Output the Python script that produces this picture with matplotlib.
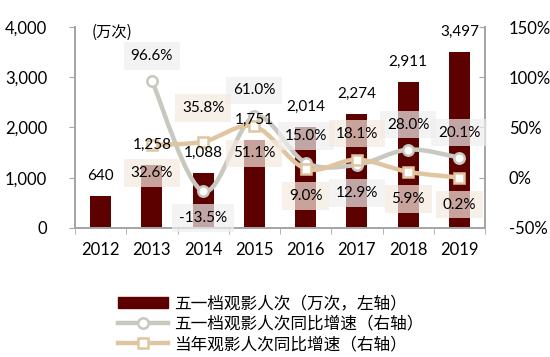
import matplotlib
matplotlib.use('Agg')
import matplotlib.pyplot as plt
from matplotlib.path import Path
from matplotlib.patches import PathPatch, Patch
from matplotlib.lines import Line2D
import numpy as np

plt.rcParams['font.family'] = ['Lato', 'Noto Sans CJK SC', 'DejaVu Sans']

years = ['2012', '2013', '2014', '2015', '2016', '2017', '2018', '2019']
admissions = [640, 1258, 1088, 1751, 2014, 2274, 2911, 3497]
# growth series start in 2013
may_growth = [96.6, -13.5, 61.0, 15.0, 12.9, 28.0, 20.1]
year_growth = [32.6, 35.8, 51.1, 9.0, 18.1, 5.9, 0.2]

bar_name = '五一档观影人次（万次，左轴）'
may_name = '五一档观影人次同比增速（右轴）'
year_name = '当年观影人次同比增速（右轴）'

# label offsets in pixels (negative = above the point)
may_off = [-25, 27, -26, -27, 28, -25, -25]
year_off = [28, -34, 27, 27, -26, 27, 27]

c_bar = '#5c0000'
c_gray = '#c8c8bf'
c_tan = '#dfc6a0'
c_spine = '#a6a6a6'

fig = plt.figure(figsize=(5.5, 3.57), dpi=100)
ax1 = fig.add_axes([75 / 550, 1 - 228 / 357, 410 / 550, 201 / 357])
ax2 = ax1.twinx()

x = np.arange(len(years))
xg = x[1:]
ax1.bar(x, admissions, width=0.41, color=c_bar, zorder=2)
ax1.set_xlim(-0.5, len(years) - 0.5)
ax1.set_ylim(0, 4000)
ax1.set_yticks([0, 1000, 2000, 3000, 4000])
ax1.set_yticklabels(['{:,}'.format(v) for v in [0, 1000, 2000, 3000, 4000]], fontsize=12)
ax1.set_xticks(x)
ax1.set_xticklabels(years, fontsize=12)
ax1.set_xticks(np.arange(-0.5, len(years)), minor=True)
ax1.tick_params(axis='x', which='major', length=0, pad=10)
ax1.tick_params(axis='x', which='minor', length=4, color=c_spine, direction='out')
ax1.tick_params(axis='y', length=4, color=c_spine, pad=16)

ax2.set_ylim(-50, 150)
ax2.set_yticks([-50, 0, 50, 100, 150])
ax2.set_yticklabels(['{}%'.format(v) for v in [-50, 0, 50, 100, 150]], fontsize=12)
ax2.tick_params(axis='y', length=4, color=c_spine, direction='in', pad=17)

for a in (ax1, ax2):
    a.spines['top'].set_visible(False)
    for s in ('left', 'right', 'bottom'):
        a.spines[s].set_color(c_spine)
        a.spines[s].set_linewidth(1.3)


def smooth_path(xs, ys):
    # Bezier path through the points (Excel style smoothed line)
    pts = np.column_stack([xs, ys]).astype(float)
    verts = [pts[0]]
    codes = [Path.MOVETO]
    n = len(pts)
    for i in range(n - 1):
        p0 = pts[i - 1] if i > 0 else pts[i]
        p1 = pts[i]
        p2 = pts[i + 1]
        p3 = pts[i + 2] if i + 2 < n else pts[i + 1]
        verts += [p1 + (p2 - p0) / 6, p2 - (p3 - p1) / 6, p2]
        codes += [Path.CURVE4] * 3
    return Path(verts, codes)


ax2.add_patch(PathPatch(smooth_path(xg, may_growth), fill=False, edgecolor=c_gray,
                        lw=3.2, zorder=3, capstyle='round', joinstyle='round'))
ax2.plot(xg, may_growth, ls='none', marker='o', ms=7.5, mfc='white', mec=c_gray, mew=1.8, zorder=4)
ax2.add_patch(PathPatch(smooth_path(xg, year_growth), fill=False, edgecolor=c_tan,
                        lw=3.2, zorder=3, capstyle='round', joinstyle='round'))
ax2.plot(xg, year_growth, ls='none', marker='s', ms=7.5, mfc='white', mec=c_tan, mew=1.8, zorder=4)

px = 72 / 100  # pixels to points
for xi, v in zip(x, admissions):
    ax2.annotate('{:,}'.format(v), (xi, v), xycoords=ax1.transData, xytext=(0, 20 * px),
                 textcoords='offset points', ha='center', va='center', fontsize=11, zorder=6)

for vals, offs, bg in ((may_growth, may_off, '#eeeeee'), (year_growth, year_off, '#f5eadf')):
    for xi, v, o in zip(xg, vals, offs):
        ax2.annotate('{:.1f}%'.format(v), (xi, v), xytext=(0, -o * px), textcoords='offset points',
                     ha='center', va='center', fontsize=11, zorder=5,
                     bbox=dict(boxstyle='square,pad=0.45', fc=bg, ec='none', alpha=0.7))

fig.text(92 / 550, 1 - 32 / 357, '(万次)', fontsize=11, va='center', ha='left',
         family=['Noto Sans CJK SC', 'DejaVu Sans'])

handles = [Patch(color=c_bar),
           Line2D([], [], color=c_gray, lw=3.2, marker='o', ms=7.5, mfc='white', mec=c_gray, mew=1.8),
           Line2D([], [], color=c_tan, lw=3.2, marker='s', ms=7.5, mfc='white', mec=c_tan, mew=1.8)]
fig.legend(handles, [bar_name, may_name, year_name], loc='upper left',
           bbox_to_anchor=(110 / 550, 1 - 287 / 357), frameon=False, handlelength=3.0,
           handletextpad=0.35, labelspacing=0.2, borderpad=0,
           prop={'family': ['Noto Sans CJK SC', 'DejaVu Sans'], 'size': 12})

fig.savefig('out.png', dpi=100)
